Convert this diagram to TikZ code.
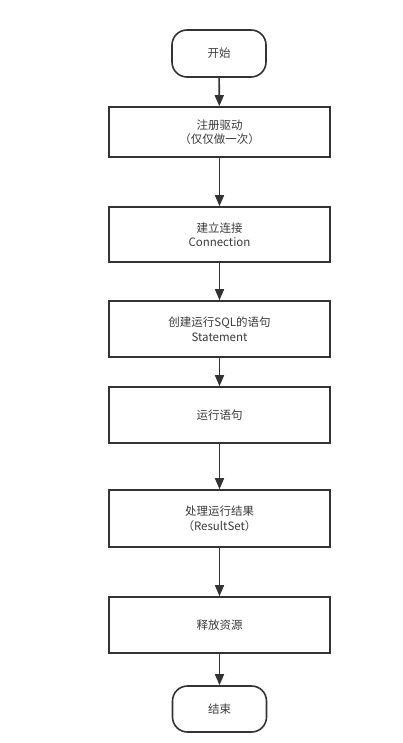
\documentclass[tikz,border=0pt]{standalone}
\usepackage{fontspec}
\setmainfont{Noto Sans CJK SC}
\usetikzlibrary{arrows.meta}
\definecolor{linegray}{HTML}{333333}
\definecolor{textgray}{HTML}{3A3A3A}
\begin{document}
\begin{tikzpicture}[x=1pt,y=-1pt]
\tikzset{every node/.style={inner sep=0pt,text=textgray,font=\fontsize{11.5}{14.5}\selectfont,align=center}}
\tikzset{stepbox/.style={draw=linegray,line width=1.6pt,minimum width=221pt}}
\tikzset{termbox/.style={draw=linegray,line width=1.6pt,rounded corners=15pt,minimum width=94pt,minimum height=47pt}}
\tikzset{flow/.style={draw=linegray,line width=1.6pt,-{Triangle[length=11pt,width=9pt]}}}
\useasboundingbox (0,0) rectangle (402,743);
\node [termbox] (start) at (219,53.5) {开始};
\node [stepbox,minimum height=50pt] (driver) at (219.5,132) {注册驱动\\（仅仅做一次）};
\node [stepbox,minimum height=55pt] (conn) at (219.5,234.5) {建立连接\\Connection};
\node [stepbox,minimum height=56pt] (stmt) at (219.5,329) {创建运行SQL的语句\\Statement};
\node [stepbox,minimum height=56pt] (exec) at (219.5,415) {运行语句};
\node [stepbox,minimum height=57pt] (result) at (219.5,518.5) {处理运行结果\\（ResultSet）};
\node [stepbox,minimum height=56pt] (release) at (219.5,625) {释放资源};
\node [termbox,minimum height=46pt] (stop) at (219.5,709) {结束};
\draw [flow] (start) -- (driver);
\draw [flow] (driver) -- (conn);
\draw [flow] (conn) -- (stmt);
\draw [flow] (stmt) -- (exec);
\draw [flow] (exec) -- (result);
\draw [flow] (result) -- (release);
\draw [flow] (release) -- (stop);
\end{tikzpicture}
\end{document}
